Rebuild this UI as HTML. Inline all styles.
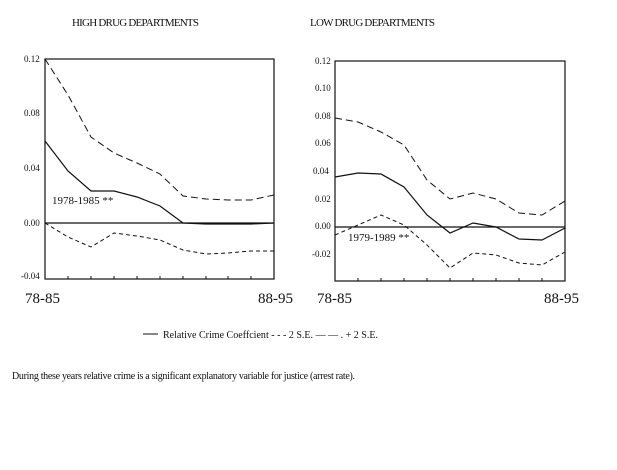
<!DOCTYPE html>
<html><head><style>
html,body{margin:0;padding:0;background:#fff;width:617px;height:470px;overflow:hidden}
svg{display:block}
text{font-family:"Liberation Serif",serif;fill:#111}
</style></head><body>
<svg width="617" height="470" viewBox="0 0 617 470">
<text x="72" y="26" font-size="11" textLength="127">HIGH DRUG DEPARTMENTS</text>
<text x="310" y="26" font-size="11" textLength="125">LOW DRUG DEPARTMENTS</text>

<!-- Left chart -->
<g stroke="#111" fill="none">
<rect x="45" y="59" width="229" height="220" stroke-width="1.2"/>
<line x1="45" y1="223" x2="274" y2="223" stroke-width="1.2"/>
<path d="M68 279v-3M91 279v-3M114 279v-3M137 279v-3M160 279v-3M183 279v-3M206 279v-3M228 279v-3M251 279v-3" />
<polyline points="45,141 68,171 91,191 114,191 137,197 160,206 183,223 206,224 228,224 251,224 274,223" stroke-width="1.2"/>
<polyline points="45,59 68,95 91,137 114,153 137,163 160,174 183,196 206,199 228,200 251,200 274,195" stroke-dasharray="7,4"/>
<polyline points="45,223 68,237 91,247 114,233 137,236 160,240 183,250 206,254 228,253 251,251 274,251" stroke-dasharray="4,3"/>
</g>
<g font-size="9">
<text x="24" y="62">0.12</text>
<text x="24" y="116">0.08</text>
<text x="24" y="171">0.04</text>
<text x="24" y="226">0.00</text>
<text x="21" y="279">-0.04</text>
</g>
<text x="52" y="204" font-size="11">1978-1985 **</text>
<text x="25" y="303" font-size="15">78-85</text>
<text x="258" y="303" font-size="15">88-95</text>

<!-- Right chart -->
<g stroke="#111" fill="none">
<rect x="335" y="61" width="230" height="220" stroke-width="1.2"/>
<line x1="335" y1="227" x2="565" y2="227" stroke-width="1.2"/>
<path d="M358 281v-3M381 281v-3M404 281v-3M427 281v-3M450 281v-3M473 281v-3M496 281v-3M519 281v-3M542 281v-3" />
<polyline points="335,177 358,173 381,174 404,187 427,215 450,233 473,223 496,227 519,239 542,240 565,228" stroke-width="1.2"/>
<polyline points="335,118 358,122 381,132 404,145 427,180 450,199 473,193 496,199 519,213 542,215 565,201" stroke-dasharray="7,4"/>
<polyline points="335,235 358,225 381,215 404,225 427,245 450,268 473,253 496,255 519,263 542,265 565,252" stroke-dasharray="4,3"/>
</g>
<g font-size="9">
<text x="315" y="64">0.12</text>
<text x="315" y="91">0.10</text>
<text x="315" y="119">0.08</text>
<text x="315" y="146">0.06</text>
<text x="313" y="174">0.04</text>
<text x="315" y="202">0.02</text>
<text x="315" y="229">0.00</text>
<text x="312" y="257">-0.02</text>
</g>
<text x="348" y="241" font-size="11">1979-1989 **</text>
<text x="317" y="303" font-size="15">78-85</text>
<text x="544" y="303" font-size="15">88-95</text>

<!-- Legend -->
<line x1="143" y1="334" x2="158" y2="334" stroke="#111"/>
<text x="163" y="338" font-size="10" textLength="215">Relative Crime Coeffcient - - -  2  S.E. — — . + 2  S.E.</text>
<text x="12" y="379" font-size="10" textLength="343">During these years relative crime is a significant explanatory variable for justice (arrest rate).</text>
</svg>
</body></html>
